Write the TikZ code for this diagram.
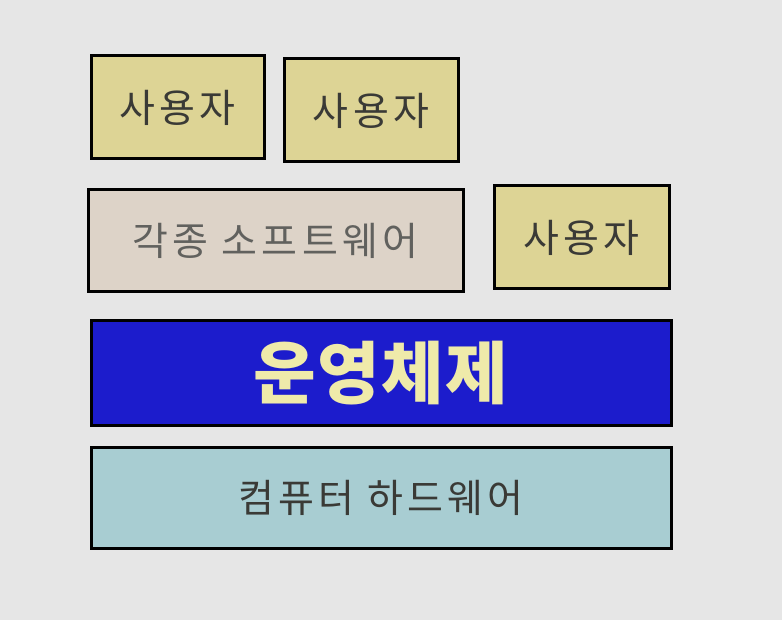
\documentclass[tikz,border=0pt]{standalone}
\usepackage{fontspec}
\newfontfamily\kr[LetterSpace=11]{Noto Sans CJK KR}
\newfontfamily\krb[LetterSpace=2]{Noto Sans CJK KR}
\definecolor{bgc}{HTML}{E6E6E6}
\definecolor{usr}{HTML}{DDD495}
\definecolor{sw}{HTML}{DDD3C8}
\definecolor{osb}{HTML}{1C1CCC}
\definecolor{ost}{HTML}{EFEAAA}
\definecolor{hw}{HTML}{A8CDD2}
\definecolor{txt}{HTML}{3A3A36}
\begin{document}
\begin{tikzpicture}[x=1pt,y=-1pt,
  layerbox/.style={draw=black,line width=3pt,inner sep=0pt,font=\kr\fontsize{39}{44}\selectfont,text=txt}]
\fill[bgc] (0,0) rectangle (782,620);
\useasboundingbox (0,0) rectangle (782,620);
\node[layerbox,fill=usr,minimum width=173,minimum height=103] (u1) at (177.5,107.5) {사용자};
\node[layerbox,fill=usr,minimum width=174,minimum height=103] (u2) at (371,110.5) {사용자};
\node[layerbox,fill=sw,minimum width=375,minimum height=102,text=txt!80] (sw) at (275.5,241) {각종 소프트웨어};
\node[layerbox,fill=usr,minimum width=175,minimum height=103] (u3) at (581.5,237.5) {사용자};
\node[layerbox,fill=osb,minimum width=580,minimum height=104,text=ost,font=\krb\bfseries\fontsize{68}{74}\selectfont] (os) at (381,373) {운영체제};
\node[layerbox,fill=hw,minimum width=580,minimum height=101] (hw) at (381,497.5) {컴퓨터 하드웨어};
\end{tikzpicture}
\end{document}
